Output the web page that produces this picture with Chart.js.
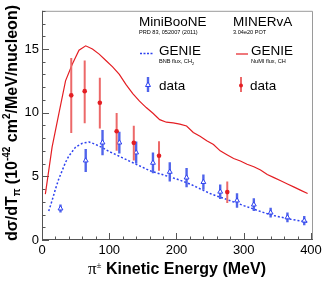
<!DOCTYPE html>
<html lang="en">
<head>
<meta charset="UTF-8">
<title>Pion kinetic energy cross section</title>
<script src="https://cdn.jsdelivr.net/npm/chart.js@4.4.1/dist/chart.umd.min.js"></script>
<style>
  html, body { margin: 0; padding: 0; background: #fff; }
  #wrap { width: 327px; height: 281px; }
</style>
</head>
<body>
<div id="wrap"><canvas id="myChart" width="327" height="281"></canvas></div>
<script>
// GENIE, NuMI flux, CH (MINERvA) - red solid curve
const minervaGenieT = [5, 15, 25, 35, 45, 55, 65, 75, 85, 95, 105, 115, 125, 135, 145, 155, 165, 175, 185, 195,
    205, 215, 225, 235, 245, 255, 265, 275, 285, 295, 305, 315, 325, 335, 345, 355, 365, 375, 385, 395];
const minervaGenieXs = [3.6, 7.3, 9.9, 12.5, 13.8, 14.9, 15.25, 15.0, 14.6, 14.1, 13.6, 13.0, 12.2, 11.5, 10.9, 10.4, 9.95, 9.45, 9.25, 9.2,
    9.1, 8.95, 8.45, 8.15, 7.8, 7.5, 7.0, 6.7, 6.4, 6.2, 5.95, 5.75, 5.5, 5.15, 4.9, 4.65, 4.4, 4.15, 3.9, 3.65];

// GENIE, BNB flux, CH2 (MiniBooNE) - blue dotted curve
const mbGenieT = [10, 15, 20, 25, 30, 35, 40, 50, 60, 70, 80, 90, 100, 110, 120, 130, 140, 150, 160, 170, 180, 190,
    200, 210, 220, 230, 240, 250, 260, 270, 280, 290, 300, 310, 320, 330, 340, 350, 360, 370, 380, 390, 396];
const mbGenieXs = [2.27, 3.1, 4.0, 4.8, 5.45, 6.1, 6.6, 7.3, 7.6, 7.7, 7.5, 7.25, 6.95, 6.7, 6.45, 6.2, 5.95, 5.7, 5.45, 5.28, 5.12, 4.95,
    4.8, 4.6, 4.4, 4.15, 3.9, 3.65, 3.45, 3.28, 3.08, 2.9, 2.7, 2.52, 2.33, 2.15, 1.98, 1.85, 1.74, 1.63, 1.54, 1.45, 1.38];

// MiniBooNE data (blue)
const mbDataT = [27.5, 65, 90, 115, 140, 165, 190, 215, 240, 265, 290, 315, 340, 365, 390];
const mbDataXs = [2.47, 6.24, 7.65, 7.65, 6.87, 6.06, 5.35, 4.9, 4.55, 3.79, 3.1, 2.78, 2.15, 1.77, 1.52];
const mbDataErr = [0.32, 0.9, 0.99, 0.85, 0.86, 0.82, 0.76, 0.76, 0.6, 0.57, 0.57, 0.5, 0.38, 0.38, 0.37];

// MINERvA data (red)
const minervaDataT = [43.5, 63.5, 86, 111, 136.5, 174, 275.5];
const minervaDataXs = [11.36, 11.69, 10.78, 8.54, 7.63, 6.62, 3.76];
const minervaDataLow = [8.4, 9.17, 8.76, 7.0, 6.24, 5.43, 2.9];
const minervaDataHigh = [14.3, 14.1, 12.75, 9.97, 8.97, 7.75, 4.6];

const xTicks = [0, 100, 200, 300, 400];
const yTicks = [0, 5, 10, 15];

const RED = 'rgb(228, 30, 35)';
const RED_BAR = 'rgb(236, 105, 105)';
const BLUE = 'rgb(45, 65, 240)';
const BLUE_BAR = 'rgb(80, 100, 235)';
const SANS = '"Liberation Sans", Arial, Helvetica, sans-serif';

function pts(xs, ys) {
    return xs.map((x, i) => ({ x: x, y: ys[i] }));
}

function drawRuns(ctx, runs, x, y) {
    // runs: [text, font, dy]
    let w = 0;
    runs.forEach(r => { ctx.font = r[1]; w += ctx.measureText(r[0]).width; });
    let cx = x - w / 2;
    runs.forEach(r => {
        ctx.font = r[1];
        ctx.fillText(r[0], cx, y + r[2]);
        cx += ctx.measureText(r[0]).width;
    });
}

const errorBars = {
    id: 'errorBars',
    beforeDatasetDraw(chart, args) {
        const ctx = chart.ctx;
        const xs = chart.scales.x, ys = chart.scales.y;
        ctx.save();
        ctx.beginPath();
        ctx.rect(chart.chartArea.left, chart.chartArea.top, chart.chartArea.width, chart.chartArea.height);
        ctx.clip();
        if (args.index === 0) {
            ctx.strokeStyle = RED_BAR;
            ctx.lineWidth = 2;
            minervaDataT.forEach((t, i) => {
                ctx.beginPath();
                ctx.moveTo(xs.getPixelForValue(t), ys.getPixelForValue(minervaDataLow[i]));
                ctx.lineTo(xs.getPixelForValue(t), ys.getPixelForValue(minervaDataHigh[i]));
                ctx.stroke();
            });
        }
        if (args.index === 1) {
            ctx.strokeStyle = BLUE_BAR;
            ctx.lineWidth = 2.4;
            mbDataT.forEach((t, i) => {
                ctx.beginPath();
                ctx.moveTo(xs.getPixelForValue(t), ys.getPixelForValue(mbDataXs[i] - mbDataErr[i]));
                ctx.lineTo(xs.getPixelForValue(t), ys.getPixelForValue(mbDataXs[i] + mbDataErr[i]));
                ctx.stroke();
            });
        }
        ctx.restore();
    }
};

const frameAndText = {
    id: 'frameAndText',
    beforeDatasetsDraw(chart) {
        const ctx = chart.ctx;
        const a = chart.chartArea;
        const xs = chart.scales.x, ys = chart.scales.y;
        ctx.save();
        ctx.lineWidth = 1;
        ctx.strokeStyle = '#9a9a9a';
        ctx.beginPath();
        ctx.moveTo(a.left, a.top + 0.5);
        ctx.lineTo(a.right - 0.5, a.top + 0.5);
        ctx.lineTo(a.right - 0.5, a.bottom);
        ctx.stroke();
        ctx.strokeStyle = '#555';
        ctx.beginPath();
        ctx.moveTo(a.left + 0.5, a.top);
        ctx.lineTo(a.left + 0.5, a.bottom - 0.5);
        ctx.lineTo(a.right, a.bottom - 0.5);
        ctx.stroke();
        // ticks inside the frame
        for (let v = 0; v <= 400; v += 20) {
            const px = Math.round(xs.getPixelForValue(v)) + 0.5;
            const len = v % 100 === 0 ? 7 : 3.5;
            ctx.beginPath();
            ctx.moveTo(px, a.bottom);
            ctx.lineTo(px, a.bottom - len);
            ctx.stroke();
        }
        for (let v = 0; v <= 18; v += 1) {
            const py = Math.round(ys.getPixelForValue(v)) + 0.5;
            const len = v % 5 === 0 ? 7 : 3.5;
            ctx.beginPath();
            ctx.moveTo(a.left, py);
            ctx.lineTo(a.left + len, py);
            ctx.stroke();
        }
        ctx.restore();
    },
    afterDraw(chart) {
        const ctx = chart.ctx;
        ctx.save();
        ctx.fillStyle = '#000';
        ctx.textBaseline = 'alphabetic';

        // legend block
        ctx.textAlign = 'left';
        ctx.font = '13.5px ' + SANS;
        ctx.fillText('MiniBooNE', 139, 26);
        ctx.fillText('MINERvA', 233, 26);
        ctx.font = '5.6px ' + SANS;
        ctx.fillText('PRD 83, 052007 (2011)', 139, 34);
        ctx.fillText('3.04e20 POT', 233, 34);

        ctx.save();
        ctx.strokeStyle = BLUE;
        ctx.lineWidth = 1.5;
        ctx.setLineDash([2, 1.5]);
        ctx.beginPath();
        ctx.moveTo(140, 53.5);
        ctx.lineTo(154, 53.5);
        ctx.stroke();
        ctx.restore();
        ctx.strokeStyle = RED;
        ctx.lineWidth = 1.2;
        ctx.beginPath();
        ctx.moveTo(236, 54);
        ctx.lineTo(248, 54);
        ctx.stroke();

        ctx.font = '13.5px ' + SANS;
        ctx.fillText('GENIE', 159, 55);
        ctx.fillText('GENIE', 251, 55);
        ctx.font = '5.6px ' + SANS;
        ctx.fillText('BNB flux, CH', 159, 63);
        const w = ctx.measureText('BNB flux, CH').width;
        ctx.font = '4px ' + SANS;
        ctx.fillText('2', 159 + w, 64.5);
        ctx.font = '5.6px ' + SANS;
        ctx.fillText('NuMI flux, CH', 251, 63);

        // data markers in the legend
        ctx.strokeStyle = BLUE_BAR;
        ctx.lineWidth = 2.4;
        ctx.beginPath();
        ctx.moveTo(148, 77);
        ctx.lineTo(148, 92);
        ctx.stroke();
        ctx.strokeStyle = BLUE;
        ctx.fillStyle = '#fff';
        ctx.lineWidth = 1;
        ctx.beginPath();
        ctx.moveTo(148, 82);
        ctx.lineTo(150.5, 86.5);
        ctx.lineTo(145.5, 86.5);
        ctx.closePath();
        ctx.fill();
        ctx.stroke();

        ctx.strokeStyle = RED_BAR;
        ctx.lineWidth = 2;
        ctx.beginPath();
        ctx.moveTo(241, 77);
        ctx.lineTo(241, 92);
        ctx.stroke();
        ctx.fillStyle = RED;
        ctx.beginPath();
        ctx.arc(241, 85.5, 2, 0, Math.PI * 2);
        ctx.fill();

        ctx.fillStyle = '#000';
        ctx.font = '13.5px ' + SANS;
        ctx.fillText('data', 159, 89.5);
        ctx.fillText('data', 250, 89.5);

        // x axis title
        drawRuns(ctx, [
            ['\u03c0', '17px "Liberation Serif", serif', 0],
            ['\u00b1', '9px "Liberation Serif", serif', -6],
            [' Kinetic Energy (MeV)', 'bold 16px ' + SANS, 0]
        ], 177, 274);

        // y axis title
        ctx.translate(17, 123);
        ctx.rotate(-Math.PI / 2);
        drawRuns(ctx, [
            ['d\u03c3/dT', 'bold 16px ' + SANS, 0],
            ['\u03c0', 'bold 10px ' + SANS, 3],
            [' (10', 'bold 16px ' + SANS, 0],
            ['-42', 'bold 10px ' + SANS, -7],
            [' cm', 'bold 16px ' + SANS, 0],
            ['2', 'bold 10px ' + SANS, -7],
            ['/MeV/nucleon)', 'bold 16px ' + SANS, 0]
        ], 0, 0);
        ctx.restore();
    }
};

const ctx = document.getElementById('myChart').getContext('2d');
const chart = new Chart(ctx, {
    type: 'line',
    data: {
        datasets: [{
            label: 'MINERvA data',
            data: pts(minervaDataT, minervaDataXs),
            showLine: false,
            pointStyle: 'circle',
            pointRadius: 2.3,
            pointBackgroundColor: RED,
            pointBorderColor: RED,
            pointBorderWidth: 0,
            order: 0
        }, {
            label: 'MiniBooNE data',
            data: pts(mbDataT, mbDataXs),
            showLine: false,
            pointStyle: 'triangle',
            pointRadius: 2.8,
            pointBackgroundColor: '#fff',
            pointBorderColor: BLUE,
            pointBorderWidth: 1,
            order: 1
        }, {
            label: 'GENIE NuMI flux, CH',
            data: pts(minervaGenieT, minervaGenieXs),
            borderColor: RED,
            borderWidth: 1.2,
            pointRadius: 0,
            tension: 0,
            order: 2
        }, {
            label: 'GENIE BNB flux, CH2',
            data: pts(mbGenieT, mbGenieXs),
            borderColor: BLUE,
            borderWidth: 1.5,
            borderDash: [2, 2],
            pointRadius: 0,
            tension: 0,
            order: 3
        }]
    },
    options: {
        responsive: false,
        animation: false,
        layout: { padding: { top: 2, right: 14, left: 0, bottom: 0 } },
        plugins: { legend: { display: false }, tooltip: { enabled: false } },
        scales: {
            x: {
                type: 'linear',
                min: 0,
                max: 403,
                afterBuildTicks(s) { s.ticks = xTicks.map(v => ({ value: v })); },
                afterFit(s) { s.height = 41; },
                ticks: { color: '#000', font: { size: 13, family: SANS }, padding: 3, maxRotation: 0 },
                grid: { display: false, drawTicks: false },
                border: { display: false }
            },
            y: {
                type: 'linear',
                min: 0,
                max: 18,
                afterBuildTicks(s) { s.ticks = yTicks.map(v => ({ value: v })); },
                afterFit(s) { s.width = 42; },
                ticks: { color: '#000', font: { size: 13, family: SANS }, padding: 3 },
                grid: { display: false, drawTicks: false },
                border: { display: false }
            }
        }
    },
    plugins: [errorBars, frameAndText]
});
</script>
</body>
</html>
